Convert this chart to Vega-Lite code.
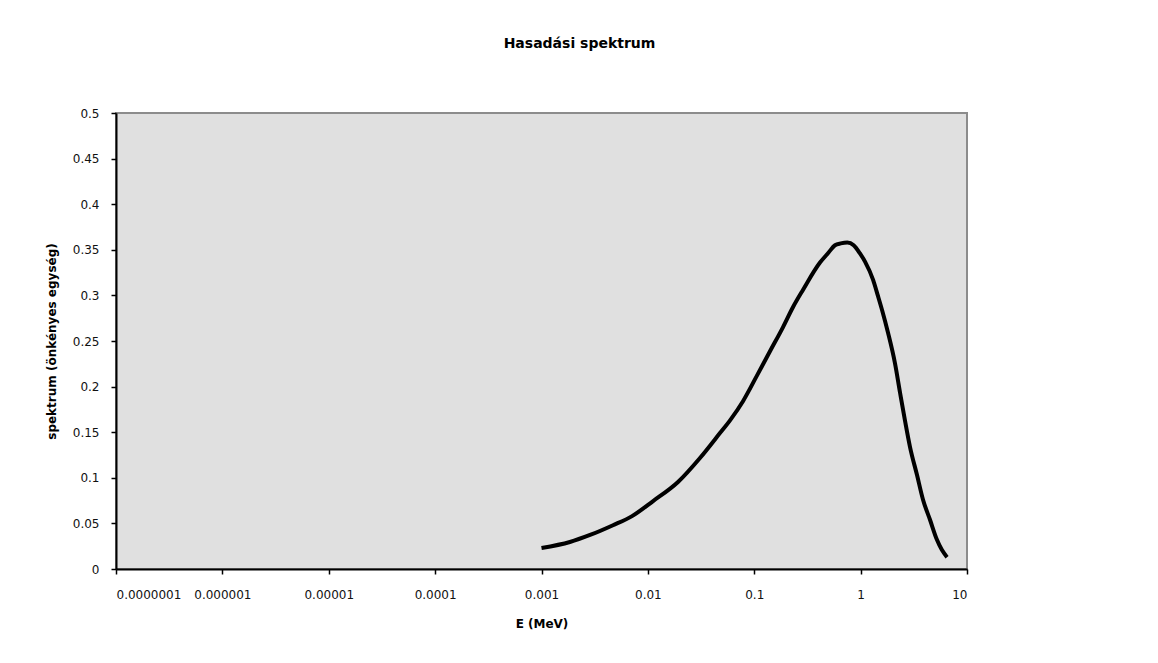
{
  "$schema": "https://vega.github.io/schema/vega-lite/v6.json",
  "width": 851,
  "height": 456,
  "autosize": {"type": "none"},
  "padding": {"left": 116, "top": 113, "right": 191, "bottom": 94},
  "background": "white",
  "title": {
    "text": "Hasadási spektrum",
    "font": "DejaVu Sans",
    "fontSize": 14,
    "fontWeight": "bold",
    "color": "#000000",
    "anchor": "middle",
    "frame": "group",
    "dx": 38,
    "offset": 56
  },
  "config": {
    "view": {"fill": "#e0e0e0", "stroke": "#8c8c8c", "strokeWidth": 2},
    "axis": {
      "grid": false,
      "domainColor": "#000000",
      "domainWidth": 2,
      "tickColor": "#000000",
      "tickWidth": 1.5,
      "tickSize": 5,
      "labelFont": "DejaVu Sans",
      "labelFontSize": 12,
      "labelColor": "#111111",
      "titleFont": "DejaVu Sans",
      "titleFontSize": 12,
      "titleFontWeight": "bold",
      "titleColor": "#000000"
    }
  },
  "data": {
    "values": [
      {"E": 0.001, "S": 0.023},
      {"E": 0.00185, "S": 0.0296},
      {"E": 0.00286, "S": 0.0373},
      {"E": 0.0047, "S": 0.048},
      {"E": 0.0071, "S": 0.058},
      {"E": 0.0112, "S": 0.0745},
      {"E": 0.0192, "S": 0.0954},
      {"E": 0.0309, "S": 0.1217},
      {"E": 0.0476, "S": 0.149},
      {"E": 0.0592, "S": 0.163},
      {"E": 0.0784, "S": 0.184},
      {"E": 0.106, "S": 0.212},
      {"E": 0.141, "S": 0.239},
      {"E": 0.186, "S": 0.265},
      {"E": 0.231, "S": 0.287},
      {"E": 0.287, "S": 0.306},
      {"E": 0.415, "S": 0.336},
      {"E": 0.5, "S": 0.347},
      {"E": 0.574, "S": 0.355},
      {"E": 0.65, "S": 0.357},
      {"E": 0.75, "S": 0.358},
      {"E": 0.86, "S": 0.355},
      {"E": 0.986, "S": 0.346},
      {"E": 1.1, "S": 0.337},
      {"E": 1.31, "S": 0.317},
      {"E": 1.45, "S": 0.300},
      {"E": 1.59, "S": 0.284},
      {"E": 1.81, "S": 0.259},
      {"E": 2.1, "S": 0.226},
      {"E": 2.35, "S": 0.193},
      {"E": 2.61, "S": 0.163},
      {"E": 2.91, "S": 0.134},
      {"E": 3.39, "S": 0.103},
      {"E": 3.86, "S": 0.076},
      {"E": 4.49, "S": 0.054},
      {"E": 5.22, "S": 0.032},
      {"E": 5.8, "S": 0.021},
      {"E": 6.49, "S": 0.013}
    ]
  },
  "mark": {"type": "line", "color": "#000000", "strokeWidth": 4, "interpolate": "monotone"},
  "encoding": {
    "x": {
      "field": "E",
      "type": "quantitative",
      "scale": {"type": "log", "domain": [1e-7, 10], "nice": false},
      "axis": {
        "title": "E (MeV)",
        "values": [1e-7, 1e-6, 1e-5, 1e-4, 0.001, 0.01, 0.1, 1, 10],
        "format": ".7~f",
        "labelPadding": 15,
        "titlePadding": 18
      }
    },
    "y": {
      "field": "S",
      "type": "quantitative",
      "scale": {"domain": [0, 0.5], "nice": false},
      "axis": {
        "title": "spektrum (önkényes egység)",
        "values": [0, 0.05, 0.1, 0.15, 0.2, 0.25, 0.3, 0.35, 0.4, 0.45, 0.5],
        "format": ".2~f",
        "labelPadding": 12,
        "titlePadding": 14
      }
    }
  }
}
